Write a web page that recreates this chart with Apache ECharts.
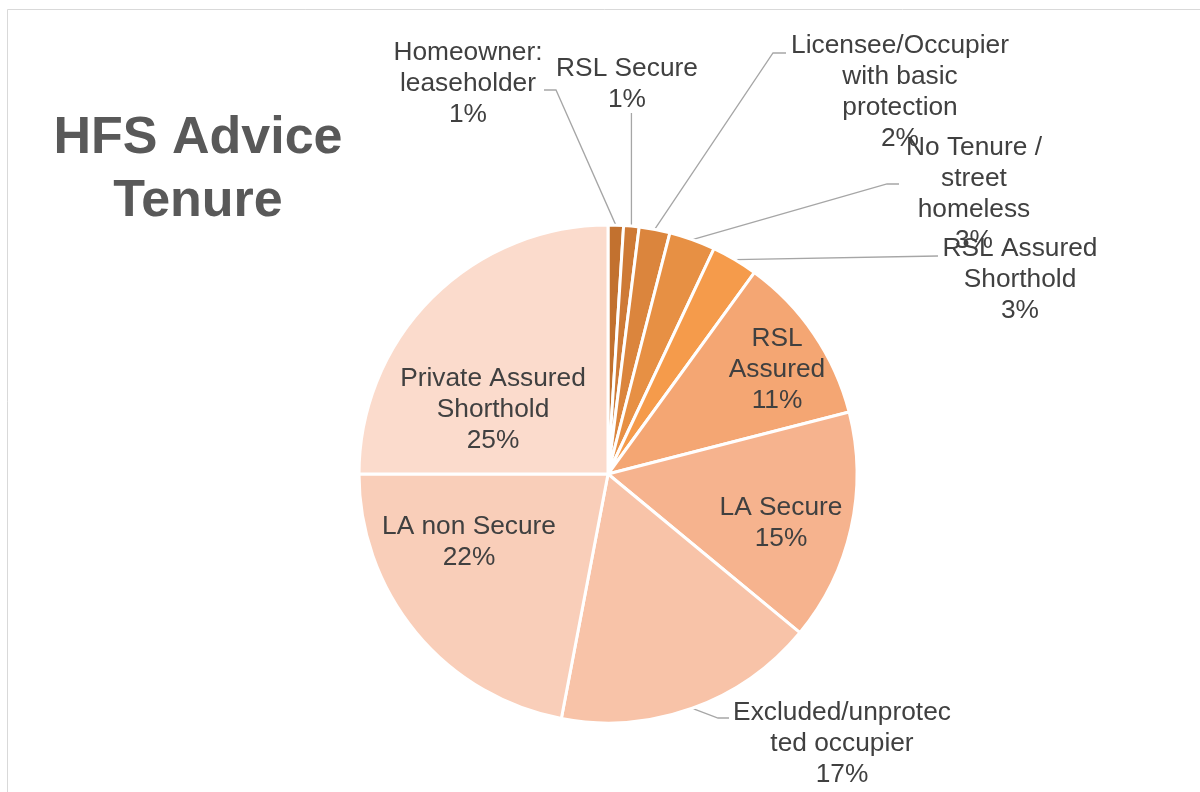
<!DOCTYPE html>
<html>
<head>
<meta charset="utf-8">
<title>HFS Advice Tenure</title>
<script src="https://cdn.jsdelivr.net/npm/echarts@6/dist/echarts.min.js"></script>
<style>
  html, body { margin: 0; padding: 0; background: #ffffff; }
  #chart { width: 1200px; height: 792px; }
</style>
</head>
<body>
<div id="chart"></div>
<script>
// Tenure categories, clockwise from 12 o'clock (line breaks as displayed)
const categories = [
  'Homeowner:\nleaseholder',
  'RSL Secure',
  'Licensee/Occupier\nwith basic\nprotection',
  'No Tenure /\nstreet\nhomeless',
  'RSL Assured\nShorthold',
  'RSL\nAssured',
  'LA Secure',
  'Excluded/unprotec\nted occupier',
  'LA non Secure',
  'Private Assured\nShorthold'
];

// Share of advice cases (%)
const shares = [1, 1, 2, 3, 3, 11, 15, 17, 22, 25];

const sliceColors = [
  '#C2712F', '#CE7A36', '#DB853D', '#E79044', '#F59B4B',
  '#F4A673', '#F6B38E', '#F8C3A8', '#F9CEB9', '#FBDBCC'
];

// Label anchors (text centre) and leader-line bend points
const labelPlacement = [
  { x: 468, y: 84,  line: [[556, 90], [544, 90]] },
  { x: 627, y: 84,  line: 'vertical', top: 113 },
  { x: 900, y: 92,  line: [[773, 53], [786, 53]] },
  { x: 974, y: 194, line: [[887, 184], [899, 184]] },
  { x: 1020, y: 280, line: [[938, 256]] },
  { x: 777, y: 370, line: null },
  { x: 781, y: 523, line: null },
  { x: 842, y: 744, line: [[718, 718], [729, 718]] },
  { x: 469, y: 542, line: null },
  { x: 493, y: 410, line: null }
];

const chart = echarts.init(document.getElementById('chart'), null, { renderer: 'canvas' });

const pieData = categories.map((name, i) => ({
  name: name,
  value: shares[i],
  itemStyle: { color: sliceColors[i] },
  labelLine: { show: labelPlacement[i].line !== null }
}));

chart.setOption({
  animation: false,
  backgroundColor: '#ffffff',
  graphic: [
    {
      type: 'rect',
      silent: true,
      shape: { x: 7.5, y: 9.5, width: 1400, height: 1000 },
      style: { fill: 'none', stroke: '#D9D9D9', lineWidth: 1 }
    },
    {
      type: 'text',
      silent: true,
      x: 198,
      y: 107,
      style: {
        text: 'HFS Advice\nTenure',
        font: 'bold 52px "Liberation Sans", Arial, sans-serif',
        fill: '#595959',
        align: 'center',
        verticalAlign: 'top',
        lineHeight: 63
      }
    }
  ],
  series: [
    {
      type: 'pie',
      center: [608, 474],
      radius: [0, 249],
      startAngle: 90,
      clockwise: true,
      avoidLabelOverlap: false,
      itemStyle: { borderColor: '#ffffff', borderWidth: 3 },
      label: {
        show: true,
        position: 'outside',
        formatter: '{b}\n{c}%',
        fontFamily: '"Liberation Sans", Arial, sans-serif',
        fontSize: 26.3,
        lineHeight: 31,
        color: '#404040'
      },
      labelLine: {
        show: true,
        length: 10,
        length2: 10,
        lineStyle: { color: '#A6A6A6', width: 1.3 }
      },
      labelLayout: function (params) {
        const spot = labelPlacement[params.dataIndex];
        const out = { x: spot.x, y: spot.y, align: 'center', verticalAlign: 'middle' };
        const pts = params.labelLinePoints;
        if (spot.line && pts && pts.length) {
          const edge = [pts[0][0], pts[0][1]];
          if (spot.line === 'vertical') {
            out.labelLinePoints = [edge, [edge[0], spot.top]];
          } else {
            out.labelLinePoints = [edge].concat(spot.line);
          }
        }
        return out;
      },
      emphasis: { disabled: true },
      data: pieData
    }
  ]
});
</script>
</body>
</html>
